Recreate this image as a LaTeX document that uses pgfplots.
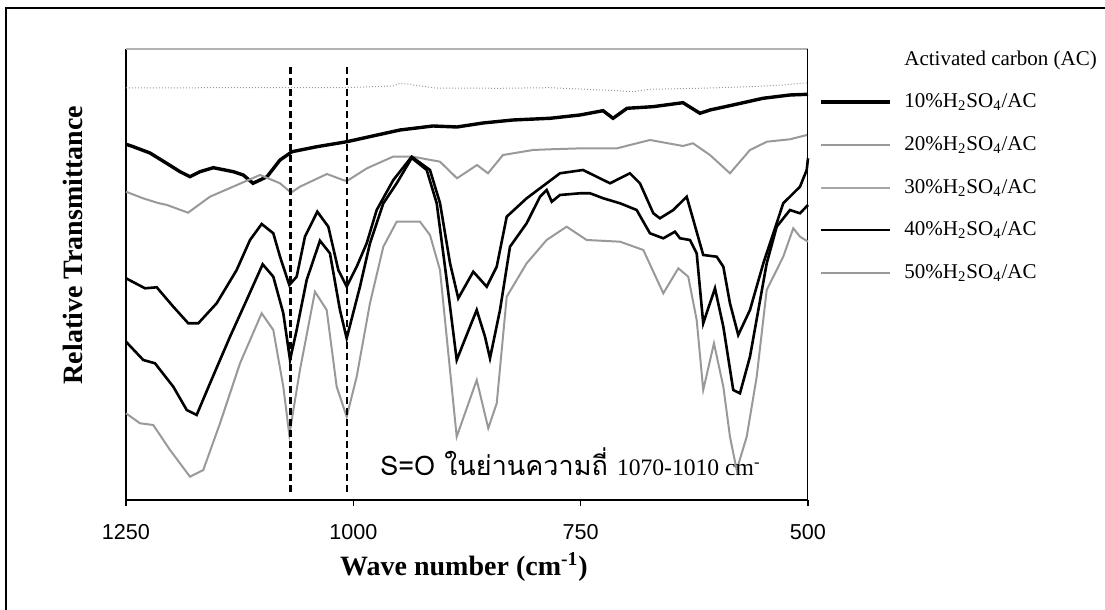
\documentclass[border=0pt]{standalone}
\usepackage{pgfplots}
\pgfplotsset{compat=1.18}
\usepackage{fontspec}
\setmainfont{Liberation Serif}
\newfontfamily\arial{Liberation Sans}
\newfontfamily\thaifont[Script=Thai]{Loma}

\begin{document}
\begin{tikzpicture}[x=0.5pt,y=0.5pt]
\useasboundingbox (0,0) rectangle (1105,610);
% outer frame
\draw[line width=0.9pt] (6,0) -- (6,602) -- (1105,602);

\begin{axis}[
  at={(63pt,55pt)}, anchor=south west,
  width=341pt, height=225.5pt, scale only axis,
  x dir=reverse, xmin=500, xmax=1250, ymin=0, ymax=451,
  axis x line*=bottom, axis y line*=left,
  axis line style={-, line width=0.9pt},
  xtick={500,750,1000,1250}, ytick=\empty,
  tick align=outside, major tick length=3pt,
  tick style={black, line width=0.6pt},
  /pgf/number format/1000 sep={},
  /pgf/number format/assume math mode=true,
  xticklabel style={font=\arial\fontsize{10.8}{12}\selectfont, yshift=-5.5pt},
  clip=false,
]
% frame lines on top and right
\draw[gray!60, line width=0.8pt] (rel axis cs:0,1) -- (rel axis cs:1,1);
\draw[line width=0.5pt] (rel axis cs:1,0) -- (rel axis cs:1,1);

% activated carbon (AC)
\addplot[gray!80, densely dotted, line width=0.5pt] coordinates {
(1250,412)(1150,412.3)(1058.7,412.3)(1003.7,412.5)(956,414)(948.7,416.7)
(935.8,415.5)(934.4,415)(910,412)(838.7,411.7)(783.7,412.3)(710,409.3)
(692.5,408.3)(673.8,410.7)(618.8,411.7)(563.8,413.3)(527.5,415)(500,417.3)};

% 10% H2SO4/AC
\addplot[black, line width=1.7pt] coordinates {
(1250,355.7)(1242,353.3)(1223.6,347)(1205.3,336.7)(1190.6,328.3)(1179.6,323.3)
(1168.6,328.3)(1154,332.3)(1132,328.3)(1121,325)(1110.3,316.7)(1094.9,323.3)
(1080.6,340)(1067.4,348.3)(1040,353.3)(1007,358.3)(948.7,370)(912.4,374)
(886,373)(857.4,377)(824.4,380)(783.7,381.7)(750.7,385)(725.4,389.3)
(714.4,381.7)(699,391.7)(670.5,393.3)(637.5,397.3)(618.8,386.7)(607.8,390)
(582.5,395)(549.5,401.7)(519.8,405)(500,405.7)};

% 20% H2SO4/AC
\addplot[gray!80, line width=1.0pt] coordinates {
(1250,308.3)(1231.3,301.7)(1214.8,297)(1204.9,295)(1181.8,287.3)(1157.6,303.3)
(1132.3,313.3)(1102.6,325)(1080.6,316.7)(1068.5,307.3)(1058.7,313.3)(1029,326)
(1011.4,320)(1007,319)(985,331.7)(956.4,343.3)(934.4,343.3)(904.7,338.3)
(886,321.7)(864,335)(851.9,326.7)(835.4,345)(802.4,350)(783.7,350.7)
(747.4,351.7)(710,351.7)(673.8,360)(637.5,354)(626.5,356.7)(607.8,345)
(585.8,326.7)(563.8,350)(545.1,358.3)(519.8,360.7)(501.1,365)};

% 30% H2SO4/AC
\addplot[black, line width=1.3pt] coordinates {
(1250,221.7)(1229.1,211.7)(1216.2,212.7)(1198,193.3)(1181.5,176.7)(1170.5,176.7)
(1150.3,196.7)(1128.3,230)(1113.6,260)(1100.8,276)(1088,266.7)(1080.6,243.3)
(1070.4,215)(1062.3,223.3)(1053.2,263.3)(1039.6,288.3)(1027.5,273.3)(1016.5,230)
(1007.3,213.3)(996.3,233.3)(985.3,256.7)(974.3,290)(956,320)(935.8,343.3)
(915.7,330)(904.7,297)(893.7,237)(884.6,201.7)(868.1,228.3)(853.3,213.3)
(842.3,233.3)(831.3,283.3)(809.4,301.7)(787.4,316.7)(772.7,326.7)(747.4,330)
(725.1,320)(717.7,316.7)(695.8,326.7)(684.8,316.7)(670.1,286.7)(662.8,281.7)
(648.1,290)(633.4,303.3)(626.1,280)(615.2,245)(600.4,243.3)(593.1,233.3)
(585.8,196.7)(576.7,165)(563.8,190)(549.1,236.7)(527.2,296.7)(508.8,313.3)
(501.4,330)(500,341.7)};

% 40% H2SO4/AC
\addplot[black, line width=1.3pt] coordinates {
(1250,158.3)(1231,140)(1218.1,136.7)(1198,113.3)(1183.2,90)(1172.3,85)
(1157.6,116.7)(1135.6,163.3)(1117.3,200)(1099.7,235.7)(1088,223.3)(1077,186.7)
(1069.6,140)(1062.3,170)(1051.3,220)(1036.7,259.3)(1025.7,246.7)(1014.7,190)
(1007.3,161.7)(992.7,213.3)(981.7,256.7)(967,296.7)(952.3,316.7)(935.8,342)
(919.3,330)(908.3,296.7)(897.3,220)(886.3,140)(871.7,173.3)(864.3,190)
(855.2,163.3)(849.7,141.7)(838.7,190)(827.7,253.3)(809.4,276.7)(794.7,303.3)
(787.4,310)(781.8,298.3)(772.7,305)(750.7,306.7)(739.7,306.7)(725.1,301.7)
(706.7,296.7)(688.4,290)(673.8,266.7)(659.1,261.7)(646.3,268.3)(640.8,261.7)
(629.8,260)(622.4,246.7)(615.2,176.7)(602.3,211.7)(593.1,173.3)(582.2,110)
(574.8,106.7)(563.8,143.3)(545.4,236.7)(534.4,273.3)(519.8,290)(508.8,286.7)
(500,295)};

% 50% H2SO4/AC
\addplot[gray!80, line width=1.0pt] coordinates {
(1250,86.7)(1234.6,76.7)(1220,75)(1201.6,50)(1179.6,23.3)(1165,30)
(1146.6,76.7)(1124.6,136.7)(1100.8,186.7)(1088,170)(1077,113.3)(1070.4,65)
(1058.7,130)(1042.2,208.3)(1029.3,190)(1018.3,113.3)(1007.3,83.3)(996.3,123.3)
(981.7,196.7)(967,253.3)(952.3,278.3)(926.7,278.3)(915.7,265)(904.7,230)
(893.7,130)(886.3,63.3)(864.3,120)(851.6,71.7)(842.3,96.7)(831.3,203.3)
(809.4,236.7)(787.4,260)(765.4,273.3)(743.4,260)(706.7,258.3)(681.1,250)
(659.1,206.7)(642.6,231.7)(631.7,223.3)(622.4,180)(615.2,110)(603.4,156.7)
(593.1,113.3)(585.8,63.3)(578.4,30)(567.4,63.3)(556.4,123.3)(545.4,210)
(527.2,243.3)(516.2,271.7)(508.8,263.3)(500,258.3)};

% S=O band markers
\addplot[black, dashed, dash pattern=on 3.5pt off 2pt, line width=1.1pt] coordinates {(1069,8)(1069,435)};
\addplot[black, dashed, dash pattern=on 3.5pt off 2pt, line width=1.1pt] coordinates {(1007,8)(1007,435)};

\node[anchor=base west, inner sep=0pt] at (axis cs:970.6,24)
  {\thaifont\fontsize{13.5}{16}\selectfont S=O ในย่านความถี่ \fontsize{11.8}{14}\selectfont\rmfamily 1070-1010 cm\textsuperscript{-}};
\end{axis}

% axis titles
\node[rotate=90, font=\bfseries\fontsize{14}{16}\selectfont] at (73,365) {Relative Transmittance};
\node[anchor=base, font=\bfseries\fontsize{14}{16}\selectfont] at (464,34) {Wave number (cm\textsuperscript{-1})};

% series key
\node[anchor=west, inner sep=0pt, font=\fontsize{10.5}{12}\selectfont] at (904,550) {Activated carbon (AC)};
\draw[black, line width=1.6pt] (821,508) -- (890,508);
\node[anchor=west, inner sep=0pt, font=\fontsize{10.5}{12}\selectfont] at (904,508) {10\%H\textsubscript{2}SO\textsubscript{4}/AC};
\draw[gray!80, line width=1.0pt] (821,465) -- (890,465);
\node[anchor=west, inner sep=0pt, font=\fontsize{10.5}{12}\selectfont] at (904,465) {20\%H\textsubscript{2}SO\textsubscript{4}/AC};
\draw[gray!70, line width=1.0pt] (821,422) -- (890,422);
\node[anchor=west, inner sep=0pt, font=\fontsize{10.5}{12}\selectfont] at (904,422) {30\%H\textsubscript{2}SO\textsubscript{4}/AC};
\draw[black, line width=1.0pt] (821,380) -- (890,380);
\node[anchor=west, inner sep=0pt, font=\fontsize{10.5}{12}\selectfont] at (904,380) {40\%H\textsubscript{2}SO\textsubscript{4}/AC};
\draw[gray!80, line width=0.8pt] (821,337) -- (890,337);
\node[anchor=west, inner sep=0pt, font=\fontsize{10.5}{12}\selectfont] at (904,337) {50\%H\textsubscript{2}SO\textsubscript{4}/AC};
\end{tikzpicture}
\end{document}
